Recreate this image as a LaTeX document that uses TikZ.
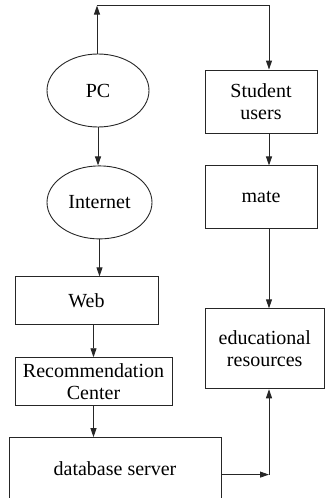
\documentclass[tikz,border=0pt]{standalone}
\usepackage{fontspec}
\setmainfont{Liberation Serif}
\usetikzlibrary{shapes.geometric, arrows.meta, positioning, calc}
\tikzset{
  box/.style={
    rectangle, draw=black!85, line width=0.9pt,
    minimum width=#1, align=center,
    font=\fontsize{20}{22}\selectfont,
    inner sep=2pt
  },
  box/.default=112pt,
  oval/.style={
    ellipse, draw=black!85, line width=0.9pt,
    minimum width=#1, minimum height=73pt,
    font=\fontsize{20}{22}\selectfont,
    inner sep=2pt
  },
  arrow/.style={
    -{Triangle[length=9pt, width=6pt]},
    draw=black!85, line width=0.9pt
  }
}
\begin{document}
\begin{tikzpicture}[x=1pt, y=1pt]
\useasboundingbox (0,0) rectangle (325,-498);

%------------------------------------------------------
% NODES
%------------------------------------------------------

% left column
\node[oval=102pt] (pc) at (98,-90.5) {PC};
\node[oval=105pt, below=38pt of pc, xshift=1.5pt] (internet) {Internet};
\node[box=143pt, minimum height=48pt, below=37pt of internet, xshift=-13pt] (web) {Web};
\node[box=157pt, minimum height=48pt, below=32pt of web, xshift=7pt] (rec) {Recommendation\\Center};
\node[box=212pt, minimum height=63pt, below=31pt of rec, xshift=21.5pt] (db) {database server};

% right column
\node[box=112pt, minimum height=63pt] (student) at (261,-101.5) {Student\\users};
\node[box=112pt, minimum height=63pt, below=32pt of student] (mate) {mate};
\node[box=119.5pt, minimum height=80pt, below=79pt of mate, xshift=3.75pt] (edu) {educational\\resources};

% helper points
\coordinate (trunk) at (269,0);
\coordinate (corner) at ($(pc.north)+(-1,48)$);
\coordinate (dbout) at ($(db.east)+(0,-5.5)$);

%------------------------------------------------------
% EDGES
%------------------------------------------------------

\draw[arrow] (corner |- pc.north) -- (corner);
\draw[arrow] (corner) -| (trunk |- student.north);
\draw[arrow] (trunk |- student.south) -- (trunk |- mate.north);
\draw[arrow] (trunk |- mate.south) -- (trunk |- edu.north);
\draw[arrow] (pc.south) -- (pc.south |- internet.north);
\draw[arrow] (internet.south) -- (internet.south |- web.north);
\draw[arrow] (rec.north |- web.south) -- (rec.north);
\draw[arrow] (rec.south) -- (rec.south |- db.north);
\draw[arrow] (dbout) -- (dbout -| trunk);
\draw[arrow] (dbout -| trunk) -- (trunk |- edu.south);

\end{tikzpicture}
\end{document}
